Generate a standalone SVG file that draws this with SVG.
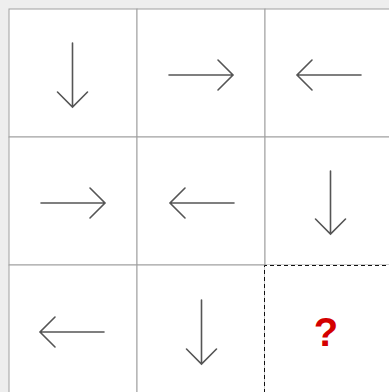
<svg xmlns="http://www.w3.org/2000/svg" width="389" height="392" viewBox="0 0 389 392">
<style>
.cell{fill:#fff;stroke:#a0a0a0;stroke-width:1}
.arr{fill:none;stroke:#555;stroke-width:1.6;stroke-linecap:round;stroke-linejoin:miter}
.q{fill:none;stroke:#111;stroke-width:1;stroke-dasharray:4,3}
.qt{font-family:"Liberation Sans",Arial,sans-serif;font-weight:bold;font-size:40px;fill:#d40000;text-anchor:middle}
</style>
<rect x="0" y="0" width="389" height="392" fill="#eeeeee"/>
<g id="cell-0-0"><rect class="cell" x="9" y="9" width="128" height="128"/><path class="arr" d="M72.5,43 V107 M57.5,92 L72.5,107 L87.5,92"/></g>
<g id="cell-0-1"><rect class="cell" x="137" y="9" width="128" height="128"/><path class="arr" d="M169,75 H233 M218,60 L233,75 L218,90"/></g>
<g id="cell-0-2"><rect class="cell" x="265" y="9" width="128" height="128"/><path class="arr" d="M361,75 H297 M312,60 L297,75 L312,90"/></g>
<g id="cell-1-0"><rect class="cell" x="9" y="137" width="128" height="128"/><path class="arr" d="M41,203 H105 M90,188 L105,203 L90,218"/></g>
<g id="cell-1-1"><rect class="cell" x="137" y="137" width="128" height="128"/><path class="arr" d="M234,203 H170 M185,188 L170,203 L185,218"/></g>
<g id="cell-1-2"><rect class="cell" x="265" y="137" width="128" height="128"/><path class="arr" d="M330.5,171 V234 M315.5,219 L330.5,234 L345.5,219"/></g>
<g id="cell-2-0"><rect class="cell" x="9" y="265" width="128" height="128"/><path class="arr" d="M104,332 H40 M55,317 L40,332 L55,347"/></g>
<g id="cell-2-1"><rect class="cell" x="137" y="265" width="128" height="128"/><path class="arr" d="M201.5,300 V364 M186.5,349 L201.5,364 L216.5,349"/></g>
<g id="cell-2-2"><rect x="265" y="265" width="128" height="128" fill="#fff"/><path class="q" d="M264.5,393 V265.5 H393"/><text class="qt" x="326" y="346">?</text></g>
</svg>
